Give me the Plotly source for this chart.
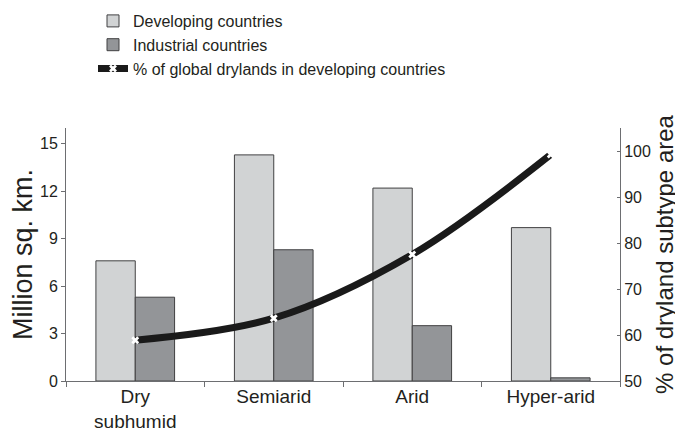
import plotly.graph_objects as go

categories = ["Dry<br>subhumid", "Semiarid", "Arid", "Hyper-arid"]
developing = [7.6, 14.3, 12.2, 9.7]
industrial = [5.3, 8.3, 3.5, 0.2]
pct_developing = [58.9, 63.7, 77.6, 99.4]

# the page has an 8px body margin, so the figure is drawn 8px in from the corner
OFF = 8
W, H = 683 - OFF, 432 - OFF
L, R, T, B = 58, 63, 120, 51
PW, PH = W - L - R, H - T - B

def px(x):  # window pixel -> paper
    return (x - OFF - L) / PW

def py(y):  # window pixel -> paper
    return (OFF + H - B - y) / PH

TXT = "#231f20"
AX = "#6d6e71"
FONT = "Liberation Sans, Arial, sans-serif"

fig = go.Figure()
fig.add_trace(go.Bar(x=categories, y=developing, name="Developing countries",
                     marker=dict(color="#d1d3d4", line=dict(color="#414042", width=1))))
fig.add_trace(go.Bar(x=categories, y=industrial, name="Industrial countries",
                     marker=dict(color="#939598", line=dict(color="#414042", width=1))))
fig.add_trace(go.Scatter(x=categories, y=pct_developing, yaxis="y2",
                         name="% of global drylands in developing countries",
                         mode="lines+markers",
                         line=dict(color="#1a1a1a", width=7, shape="spline", smoothing=1),
                         marker=dict(symbol="x", size=7, color="white", line=dict(width=0))))

fig.update_layout(
    width=W, height=H,
    margin=dict(l=L, r=R, t=T, b=B, autoexpand=False),
    paper_bgcolor="white", plot_bgcolor="white",
    font=dict(family=FONT, color=TXT),
    barmode="group", bargap=0.432, bargroupgap=0,
    showlegend=True,
    legend=dict(x=px(93), xanchor="left", y=py(4), yanchor="top",
                font=dict(size=16, color=TXT), bgcolor="rgba(0,0,0,0)",
                traceorder="normal", itemwidth=30, tracegroupgap=0),
    xaxis=dict(showline=True, linecolor=AX, linewidth=1, ticks="outside", ticklen=5,
               tickcolor=AX, tickson="boundaries", tickfont=dict(size=19, color=TXT),
               ticklabelstandoff=-2,
               showgrid=False, zeroline=False, automargin=False),
    yaxis=dict(range=[0, 16], tickvals=[0, 3, 6, 9, 12, 15], showline=True, linecolor=AX,
               linewidth=1, ticks="outside", ticklen=4, tickcolor=AX,
               tickfont=dict(size=16, color=TXT), showgrid=False, zeroline=False,
               automargin=False,
               title=dict(text="Million sq. km.", font=dict(size=27, color=TXT), standoff=0)),
    yaxis2=dict(range=[50, 105.2], tickvals=[50, 60, 70, 80, 90, 100], overlaying="y",
                side="right", showline=True, linecolor=AX, linewidth=1, ticks="inside",
                ticklen=3, tickcolor=AX, tickfont=dict(size=16, color=TXT),
                showgrid=False, zeroline=False, automargin=False,
                title=dict(text="% of dryland subtype area", font=dict(size=24, color=TXT),
                           standoff=4)),
)

fig.write_html("out.html")
